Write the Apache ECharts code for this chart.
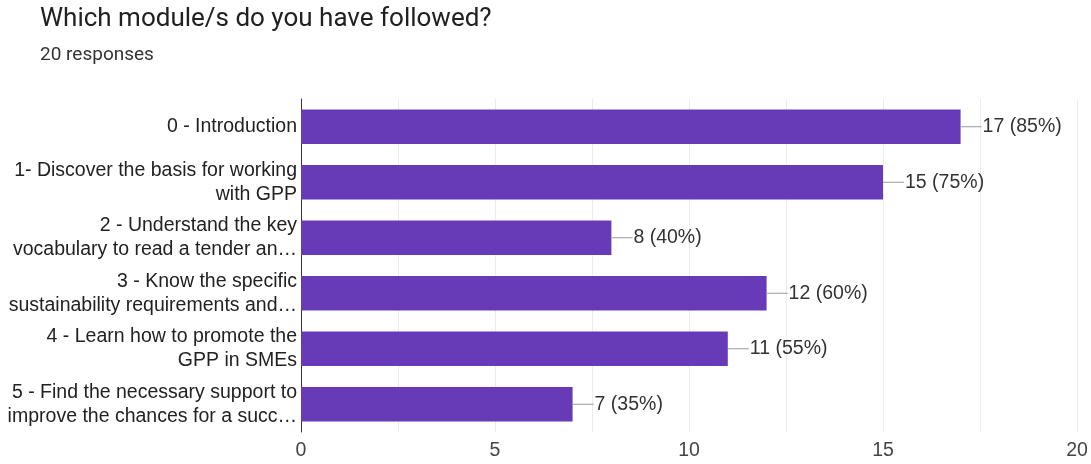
<!DOCTYPE html>
<html><head><meta charset="utf-8">
<script src="https://cdn.jsdelivr.net/npm/echarts@6/dist/echarts.min.js"></script>
<style>html,body{margin:0;padding:0;background:#fff}#c{width:1091px;height:464px}</style>
</head><body><div id="c"></div>
<script>
const categories = [
  "0 - Introduction",
  "1- Discover the basis for working\nwith GPP",
  "2 - Understand the key\nvocabulary to read a tender an…",
  "3 - Know the specific\nsustainability requirements and…",
  "4 - Learn how to promote the\nGPP in SMEs",
  "5 - Find the necessary support to\nimprove the chances for a succ…"
];
const counts = [17, 15, 8, 12, 11, 7];
const percents = [85, 75, 40, 60, 55, 35];
const xTicks = [0, 5, 10, 15, 20];

const chart = echarts.init(document.getElementById('c'));
chart.setOption({
  animation: false,
  title: {
    text: 'Which module/s do you have followed?',
    subtext: '20 responses',
    left: 35, top: 1,
    itemGap: 14,
    textStyle: {fontFamily: 'Roboto', fontSize: 26, fontWeight: 'normal', color: '#212121'},
    subtextStyle: {fontFamily: 'Roboto', fontSize: 19, color: '#333'}
  },
  grid: {left: 301, right: 14, top: 99, bottom: 32, containLabel: false},
  xAxis: {
    type: 'value', min: 0, max: 20, interval: 2.5,
    axisLine: {show: false}, axisTick: {show: false},
    splitLine: {show: true, lineStyle: {color: '#ebebeb', width: 1}},
    axisLabel: {
      fontFamily: 'Liberation Sans', fontSize: 19.5, color: '#444', margin: 9,
      formatter: v => xTicks.indexOf(v) >= 0 ? String(v) : ''
    }
  },
  yAxis: {
    type: 'category', data: categories, inverse: true,
    axisLine: {show: true, lineStyle: {color: '#333', width: 1}},
    axisTick: {show: false},
    axisLabel: {fontFamily: 'Liberation Sans', fontSize: 19.5, color: '#222', lineHeight: 24, margin: 4, align: 'right'}
  },
  series: [{
    type: 'bar',
    data: counts,
    barCategoryGap: '38%',
    itemStyle: {color: '#673ab7'},
    label: {
      show: true, position: 'right', distance: 0,
      formatter: p => '{l|}{t|' + counts[p.dataIndex] + ' (' + percents[p.dataIndex] + '%)}',
      rich: {
        l: {width: 21, height: 1, backgroundColor: '#9a9a9a', verticalAlign: 'middle'},
        t: {fontFamily: 'Liberation Sans', fontSize: 19.5, color: '#333', verticalAlign: 'middle', padding: [0,0,0,1]}
      }
    }
  }]
});
</script></body></html>
